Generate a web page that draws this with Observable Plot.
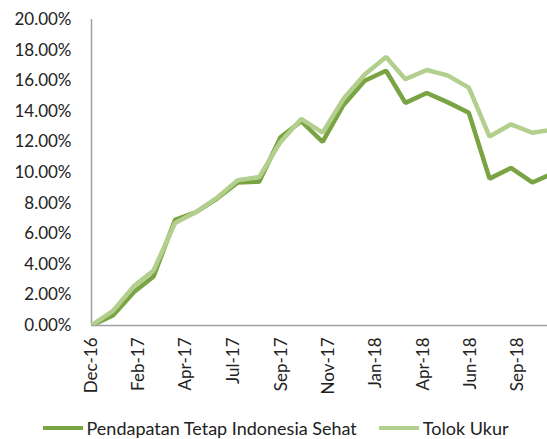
<!DOCTYPE html>
<html>
<head>
<meta charset="utf-8">
<script src="https://cdn.jsdelivr.net/npm/d3@7"></script>
<script src="https://cdn.jsdelivr.net/npm/@observablehq/plot@0.6"></script>
<style>
  html, body { margin: 0; padding: 0; background: #fff; }
  body { width: 547px; height: 439px; overflow: hidden; font-family: Lato, "Open Sans", sans-serif; }
  #legend { display: flex; justify-content: center; align-items: center; margin-top: 12px; font-size: 18px; color: #222; padding-left: 4px; }
  .item { display: flex; align-items: center; }
  .swatch { width: 40px; height: 4px; margin-right: 4px; }
</style>
</head>
<body>
<div id="chart"></div>
<div id="legend"></div>
<script>
const months = ["2016-12-01","2017-01-01","2017-02-01","2017-03-01","2017-04-01","2017-05-01","2017-06-01","2017-07-01","2017-08-01","2017-09-01","2017-10-01","2017-11-01","2017-12-01","2018-01-01","2018-02-01","2018-03-01","2018-04-01","2018-05-01","2018-06-01","2018-07-01","2018-08-01","2018-09-01","2018-10-01"];
const fundValues = [0, 0.65, 2.2, 3.2, 6.9, 7.4, 8.3, 9.35, 9.4, 12.3, 13.35, 12.0, 14.4, 16.0, 16.65, 14.55, 15.2, 14.6, 13.9, 9.6, 10.3, 9.35, 9.95];
const benchValues = [0, 0.95, 2.6, 3.6, 6.7, 7.4, 8.35, 9.5, 9.7, 12.0, 13.5, 12.6, 14.8, 16.4, 17.55, 16.1, 16.7, 16.35, 15.55, 12.35, 13.15, 12.6, 12.8];
const seriesNames = ["Pendapatan Tetap Indonesia Sehat", "Tolok Ukur"];
const seriesColors = ["#7aa443", "#b3cf8d"];
const yTicks = [0, 0.02, 0.04, 0.06, 0.08, 0.10, 0.12, 0.14, 0.16, 0.18, 0.20];
const xTickDates = ["2016-12-01","2017-02-07","2017-04-17","2017-06-25","2017-09-02","2017-11-09","2018-01-17","2018-03-27","2018-06-03","2018-08-11"];
const xTickLabels = ["Dec-16","Feb-17","Apr-17","Jul-17","Sep-17","Nov-17","Jan-18","Apr-18","Jun-18","Sep-18"];
const xDomain = ["2016-12-01", "2018-09-23"];

const parse = d3.utcParse("%Y-%m-%d");
const rows = [];
months.forEach((m, i) => {
  rows.push({date: parse(m), value: fundValues[i] / 100, series: seriesNames[0]});
});
months.forEach((m, i) => {
  rows.push({date: parse(m), value: benchValues[i] / 100, series: seriesNames[1]});
});
const tickDates = xTickDates.map(parse);

const chart = Plot.plot({
  width: 547,
  height: 405,
  marginLeft: 91,
  marginRight: 0,
  marginTop: 19,
  marginBottom: 80,
  style: {fontFamily: "Lato, 'Open Sans', sans-serif", fontSize: "17px", color: "#222", background: "#fff"},
  x: {type: "utc", domain: xDomain.map(parse)},
  y: {domain: [0, 0.20]},
  color: {domain: seriesNames, range: seriesColors},
  marks: [
    Plot.axisY({ticks: yTicks, tickFormat: d3.format(".2%"), tickSize: 0, tickPadding: 20, label: null, fontSize: 17}),
    Plot.axisX({ticks: tickDates, tickFormat: (d, i) => xTickLabels[i], tickSize: 0, tickPadding: 12, tickRotate: -90, label: null, fontSize: 17}),
    Plot.ruleX([xDomain[0]].map(parse), {stroke: "#a0a0a0", strokeWidth: 1.5}),
    Plot.ruleY([0], {stroke: "#a0a0a0", strokeWidth: 1.5}),
    Plot.line(rows.filter(r => r.series === seriesNames[0]), {x: "date", y: "value", stroke: seriesColors[0], strokeWidth: 4.5, strokeLinejoin: "miter", clip: true}),
    Plot.line(rows.filter(r => r.series === seriesNames[1]), {x: "date", y: "value", stroke: seriesColors[1], strokeWidth: 4.5, strokeLinejoin: "miter", clip: true})
  ]
});
document.getElementById("chart").appendChild(chart);

const legend = document.getElementById("legend");
seriesNames.forEach((name, i) => {
  const item = document.createElement("div");
  item.className = "item";
  if (i > 0) item.style.marginLeft = "22px";
  const sw = document.createElement("span");
  sw.className = "swatch";
  sw.style.background = seriesColors[i];
  const t = document.createElement("span");
  t.textContent = name;
  item.appendChild(sw);
  item.appendChild(t);
  legend.appendChild(item);
});
</script>
</body>
</html>
